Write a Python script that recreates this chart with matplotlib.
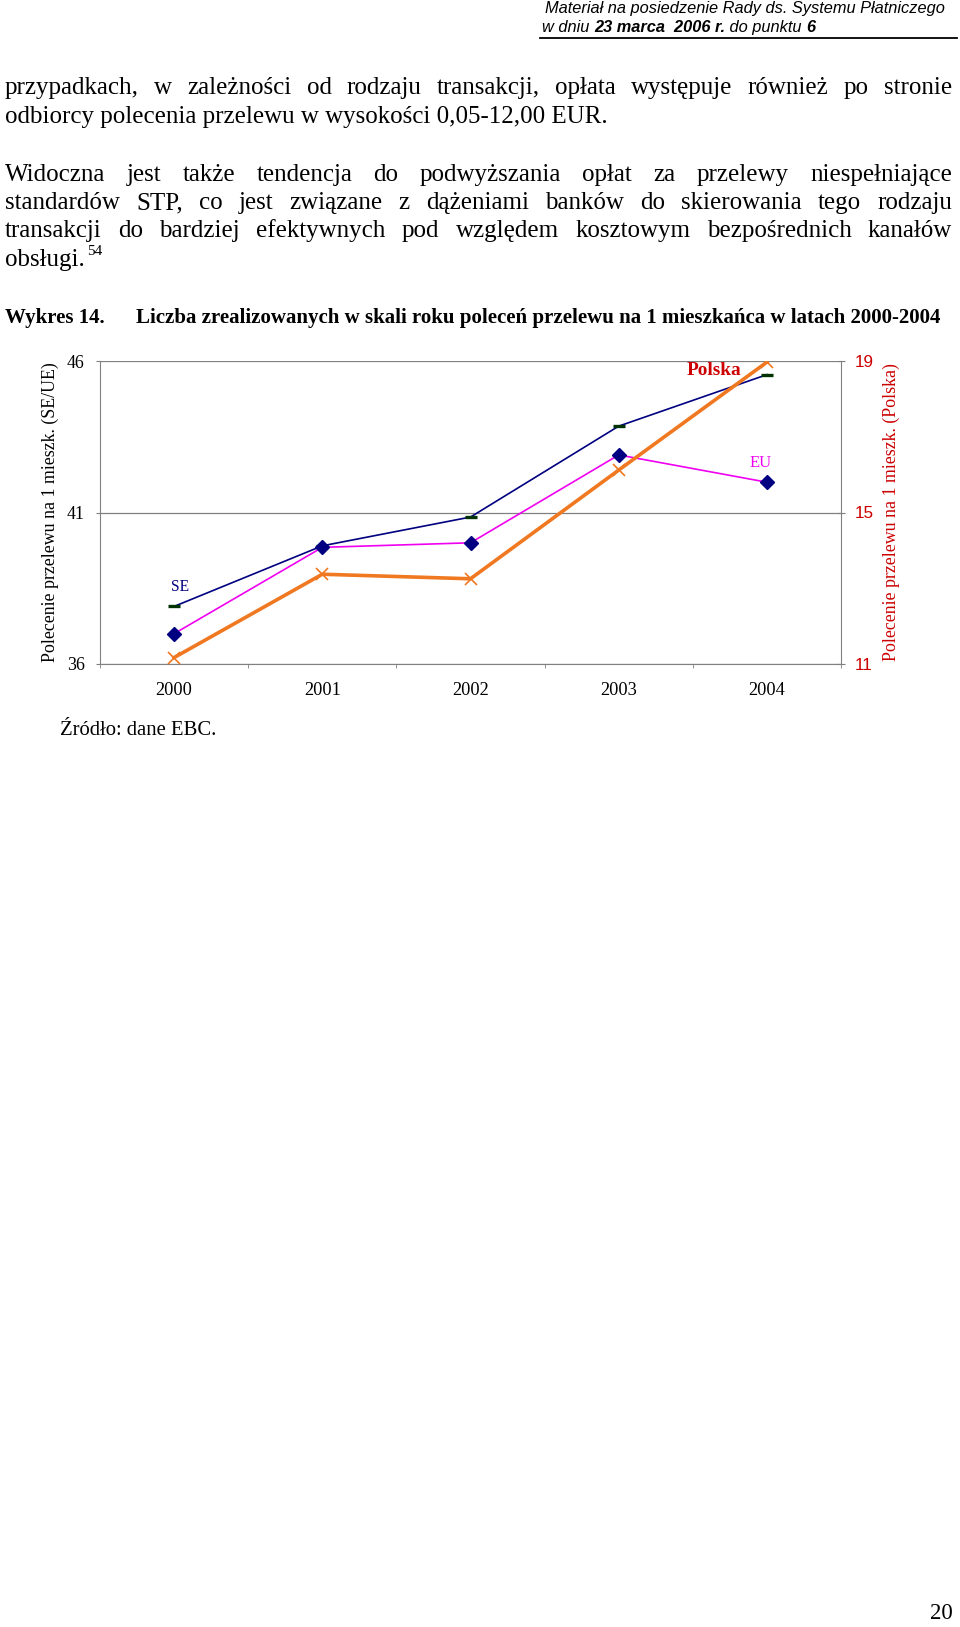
import matplotlib
matplotlib.use("Agg")
from matplotlib import pyplot as plt
from matplotlib.ticker import FixedLocator

# Chart data (read from the page)
years  = ["2000", "2001", "2002", "2003", "2004"]
se     = [37.9, 39.9, 40.85, 43.85, 45.55]
eu     = [37.0, 39.85, 40.0, 42.9, 42.0]
polska = [11.17, 13.37, 13.25, 16.12, 18.97]

left_ticks  = [36, 41, 46]
right_ticks = [11, 15, 19]

# Page text
header_1 = "Materiał na posiedzenie Rady ds. Systemu Płatniczego"
header_2 = [("w dniu ", "normal"), ("23 marca  2006 r.", "bold"),
            (" do punktu ", "normal"), ("6", "bold")]
para_1 = ["przypadkach, w zależności od rodzaju transakcji, opłata występuje również po stronie",
          "odbiorcy polecenia przelewu w wysokości 0,05-12,00 EUR."]
para_2 = ["Widoczna jest także tendencja do podwyższania opłat za przelewy niespełniające",
          "standardów STP, co jest związane z dążeniami banków do skierowania tego rodzaju",
          "transakcji do bardziej efektywnych pod względem kosztowym bezpośrednich kanałów",
          "obsługi."]
footnote = "54"
chart_no = "Wykres 14."
chart_title = "Liczba zrealizowanych w skali roku poleceń przelewu na 1 mieszkańca w latach 2000-2004"
source = "Źródło: dane EBC."
page_no = "20"

W, H = 960, 1627
SERIF = "Liberation Serif"
SANS = "Liberation Sans"

fig = plt.figure(figsize=(W / 100, H / 100), dpi=100)
renderer = fig.canvas.get_renderer()


def px(x, y):
    return x / W, 1 - y / H


def put(x, y, s, **kw):
    return fig.text(*px(x, y), s, transform=fig.transFigure, **kw)


def justify(line, y, x0, x1, **kw):
    # word by word, spreading the gaps so the line fills x0..x1
    words = line.split()
    objs = [put(0, y, w, va="baseline", ha="left", **kw) for w in words]
    widths = [t.get_window_extent(renderer).width for t in objs]
    gap = (x1 - x0 - sum(widths)) / (len(words) - 1)
    x = x0
    for t, w in zip(objs, widths):
        t.set_position(px(x, y))
        x += w + gap


body = dict(family=SERIF, fontsize=18.0, color="black")

# header
put(945, 12.7, header_1, ha="right", va="baseline", family=SANS, style="italic", fontsize=11.8)
x = 542
for s, wgt in header_2:
    t = put(x, 31.7, s, ha="left", va="baseline", family=SANS, style="italic",
            weight=wgt, fontsize=11.8)
    x += t.get_window_extent(renderer).width
fig.add_artist(plt.Line2D([540 / W, 957 / W], [1 - 38 / H] * 2, color="black", lw=1.3))

# paragraphs
justify(para_1[0], 94, 5, 952, **body)
put(5, 123, para_1[1], ha="left", va="baseline", **body)
for line, y in zip(para_2[:3], [181, 209, 237]):
    justify(line, y, 5, 952, **body)
t = put(5, 266, para_2[3], ha="left", va="baseline", **body)
put(5 + t.get_window_extent(renderer).width + 2, 255, footnote, ha="left", va="baseline",
    family=SERIF, fontsize=11)

# chart caption
put(5, 323, chart_no, ha="left", va="baseline", family=SERIF, weight="bold", fontsize=15.0)
put(136, 323, chart_title, ha="left", va="baseline", family=SERIF, weight="bold", fontsize=15.0)

# chart
grey = "#808080"
red = "#CC0000"
ax = fig.add_axes([100 / W, 1 - 664 / H, 741 / W, 303 / H])
xs = list(range(len(years)))

ax.plot(xs, se, color="#000080", lw=1.2, marker="_", ms=9, mew=2.4, mec="#003300", zorder=3)
ax.plot(xs, eu, color="#F000F0", lw=1.2, marker="D", ms=6.8, mfc="#000080", mec="#000080", zorder=4)
ax.set_xlim(-0.5, len(years) - 0.5)
ax.set_ylim(left_ticks[0], left_ticks[-1])
ax.set_xticks(xs)
ax.set_xticklabels(years, family=SERIF, fontsize=13.2)
ax.xaxis.set_minor_locator(FixedLocator([i - 0.5 for i in range(len(years) + 1)]))
ax.tick_params(axis="x", which="major", length=0, pad=13)
ax.tick_params(axis="x", which="minor", length=3, color=grey, direction="out")
ax.set_yticks(left_ticks)
ax.set_yticklabels([str(v) for v in left_ticks], family=SERIF, fontsize=12.9)
ax.tick_params(axis="y", length=3, color=grey, direction="out", pad=8)
ax.grid(axis="y", color=grey, lw=0.9)
ax.set_axisbelow(True)
for side in ["top", "right"]:
    ax.spines[side].set_visible(False)
for side in ["left", "bottom"]:
    ax.spines[side].set_color(grey)
ax.set_ylabel("Polecenie przelewu na 1 mieszk. (SE/UE)", family=SERIF, fontsize=12.9, labelpad=6)

ax2 = ax.twinx()
ax2.plot(xs, polska, color="#F07820", lw=2.6, marker="x", ms=8, mew=1.2, zorder=5)
ax2.set_ylim(right_ticks[0], right_ticks[-1])
ax2.set_yticks(right_ticks)
ax2.set_yticklabels([str(v) for v in right_ticks], family=SANS, fontsize=12.3, color=red)
ax2.tick_params(axis="y", length=6, color=grey, direction="inout", pad=7)
for side in ["top", "left", "bottom"]:
    ax2.spines[side].set_visible(False)
ax2.spines["right"].set_color(grey)
ax2.set_ylabel("Polecenie przelewu na 1 mieszk. (Polska)", family=SERIF, fontsize=12.9,
               color=red, labelpad=6)

ax.text(0.04, 38.55, "SE", color="#000080", family=SERIF, fontsize=11.2, ha="center", va="center")
ax.text(3.96, 42.63, "EU", color="#F000F0", family=SERIF, fontsize=11.9, ha="center", va="center")
ax.text(3.64, 45.67, "Polska", color=red, family=SERIF, weight="bold", fontsize=13.9,
        ha="center", va="center", zorder=6)

# source and page number
put(60, 735, source, ha="left", va="baseline", family=SERIF, fontsize=14.9)
put(953, 1619, page_no, ha="right", va="baseline", family=SERIF, fontsize=16.5)

fig.savefig("out.png", dpi=100)
